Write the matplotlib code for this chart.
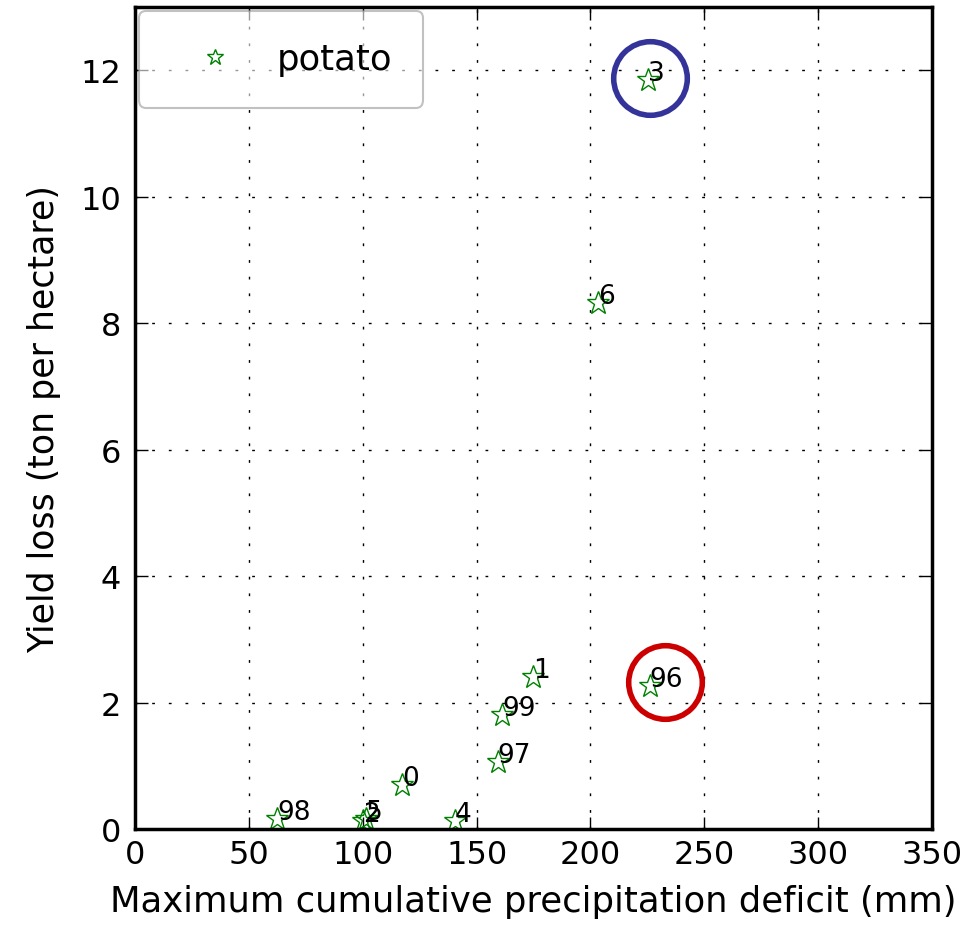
import numpy as np
import matplotlib
matplotlib.use('Agg')
import matplotlib.pyplot as plt

years = ['98', '2', '5', '4', '0', '97', '99', '1', '96', '6', '3']
deficit = [62.3, 100.0, 101.5, 140.5, 117.2, 159.3, 161.1, 174.7, 226.0, 203.3, 225.2]
loss = [0.16, 0.12, 0.15, 0.13, 0.70, 1.06, 1.80, 2.40, 2.26, 8.32, 11.84]

# highlighted years
hi_x = [226.1, 232.7]
hi_y = [11.87, 2.33]
hi_col = ['#333399', '#cc0000']

fig = plt.figure(figsize=(9.79, 9.29), dpi=100)
ax = fig.add_axes([0.138, 0.1066, 0.814, 0.8848])

ax.plot(deficit, loss, '*', color='g', mfc='none', mec='g', ms=17, mew=1.0, label='potato')
for x, y, t in zip(deficit, loss, years):
    ax.text(x, y, t, fontsize=19)
for x, y, c in zip(hi_x, hi_y, hi_col):
    ax.plot(x, y, 'o', ms=53, mfc='none', mec=c, mew=4)

ax.set_xlim(0, 350)
ax.set_ylim(0, 13)
ax.set_xticks(np.arange(0, 351, 50))
ax.set_yticks(np.arange(0, 13, 2))
ax.grid(True, color='k', linestyle=(0, (2, 10)), linewidth=1.0)
ax.tick_params(direction='in', top=True, right=True, labelsize=23, length=9, width=1.0)
ax.tick_params(axis='x', pad=7)
ax.tick_params(axis='y', pad=10)
for s in ax.spines.values():
    s.set_linewidth(2.5)
ax.set_xlabel('Maximum cumulative precipitation deficit (mm)', fontsize=25.5, labelpad=10)
ax.set_ylabel('Yield loss (ton per hectare)', fontsize=25, labelpad=14)

leg = ax.legend(loc='upper left', fontsize=25.5, numpoints=1, handlelength=2.5, borderpad=0.88,
                markerscale=0.7, fancybox=True, framealpha=0.6, handletextpad=0.5,
                borderaxespad=0.12)
leg.get_frame().set_edgecolor('0.6')
leg.get_frame().set_linewidth(1.5)

fig.savefig('out.png', dpi=100)
